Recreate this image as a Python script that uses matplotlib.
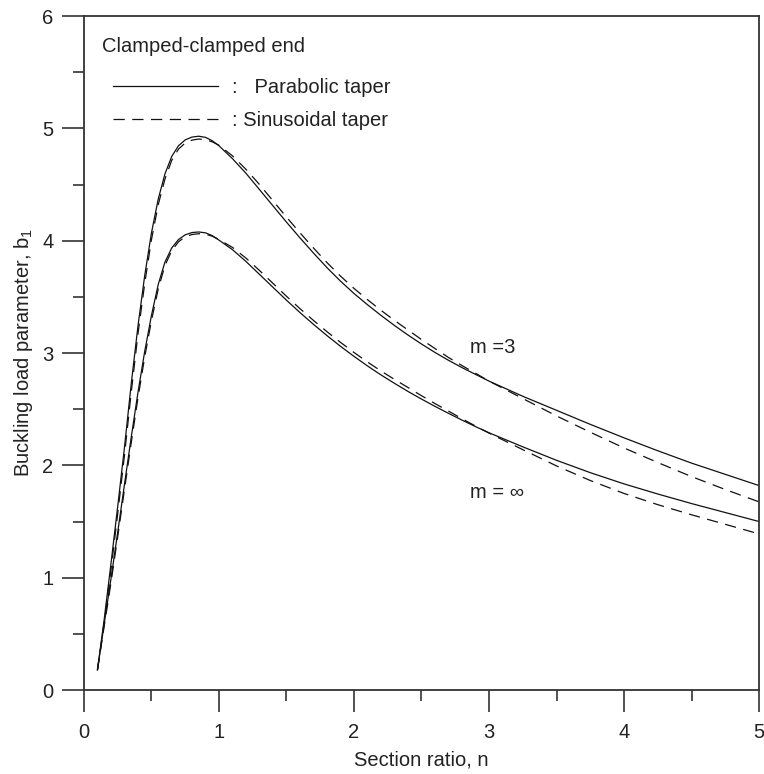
import matplotlib
matplotlib.use("Agg")
import matplotlib.pyplot as plt
from matplotlib.lines import Line2D
from matplotlib.ticker import MultipleLocator

plt.rcParams['font.family'] = ['Liberation Sans', 'DejaVu Sans']
plt.rcParams['mathtext.fontset'] = 'custom'
plt.rcParams['mathtext.rm'] = 'Liberation Sans'

# valeurs
n = [0.10, 0.15, 0.20, 0.25, 0.30, 0.35, 0.40, 0.45, 0.50, 0.55, 0.60, 0.65,
     0.70, 0.75, 0.80, 0.85, 0.90, 0.95, 1.00, 1.10, 1.20, 1.30, 1.40, 1.50,
     1.60, 1.70, 1.80, 1.90, 2.00, 2.10, 2.20, 2.30, 2.40, 2.50, 2.60, 2.70,
     2.80, 2.90, 3.00, 3.25, 3.50, 3.75, 4.00, 4.25, 4.50, 4.75, 5.00]

para_m3 = [0.18, 0.63, 1.125, 1.635, 2.16, 2.725, 3.24, 3.69, 4.07, 4.37, 4.595, 4.75,
           4.845, 4.8975, 4.9225, 4.93, 4.92, 4.89, 4.845, 4.73, 4.60, 4.455, 4.31, 4.165,
           4.025, 3.89, 3.76, 3.64, 3.53, 3.43, 3.335, 3.245, 3.16, 3.08, 3.005, 2.935,
           2.87, 2.81, 2.75, 2.615, 2.49, 2.365, 2.245, 2.13, 2.02, 1.92, 1.82]

sin_m3 = [0.18, 0.60, 1.07, 1.57, 2.09, 2.65, 3.17, 3.62, 4.01, 4.32, 4.55, 4.715,
          4.815, 4.87, 4.895, 4.905, 4.90, 4.88, 4.85, 4.755, 4.635, 4.50, 4.355, 4.21,
          4.07, 3.935, 3.805, 3.685, 3.575, 3.475, 3.38, 3.29, 3.205, 3.12, 3.04, 2.96,
          2.888, 2.82, 2.75, 2.595, 2.44, 2.295, 2.155, 2.025, 1.90, 1.785, 1.675]

para_inf = [0.18, 0.59, 0.99, 1.405, 1.83, 2.25, 2.65, 3.015, 3.335, 3.61, 3.81, 3.935,
            4.01, 4.0525, 4.0725, 4.0775, 4.07, 4.045, 4.005, 3.92, 3.815, 3.70, 3.585, 3.47,
            3.36, 3.255, 3.155, 3.06, 2.97, 2.885, 2.805, 2.73, 2.658, 2.59, 2.525, 2.463,
            2.403, 2.345, 2.29, 2.165, 2.045, 1.935, 1.835, 1.745, 1.66, 1.58, 1.50]

sin_inf = [0.18, 0.57, 0.955, 1.365, 1.785, 2.20, 2.60, 2.965, 3.29, 3.57, 3.78, 3.91,
           3.99, 4.035, 4.055, 4.062, 4.058, 4.04, 4.01, 3.94, 3.845, 3.735, 3.62, 3.505,
           3.395, 3.29, 3.19, 3.095, 3.005, 2.92, 2.84, 2.765, 2.693, 2.62, 2.55, 2.483,
           2.415, 2.35, 2.287, 2.14, 1.995, 1.865, 1.75, 1.65, 1.56, 1.475, 1.39]

txt = '#222222'
fs = 14.5

fig = plt.figure(figsize=(7.64, 7.74), dpi=100)
ax = fig.add_axes([0.1099, 0.1085, 0.8836, 0.8708])

ax.plot(n, para_m3, color='#111111', lw=0.9)
ax.plot(n, para_inf, color='#111111', lw=0.9)
ax.plot(n, sin_m3, color='#111111', lw=0.9, dashes=(9, 6))
ax.plot(n, sin_inf, color='#111111', lw=0.9, dashes=(9, 6))

ax.set_xlim(0, 5)
ax.set_ylim(0, 6)
ax.xaxis.set_major_locator(MultipleLocator(1))
ax.xaxis.set_minor_locator(MultipleLocator(0.5))
ax.yaxis.set_major_locator(MultipleLocator(1))
ax.yaxis.set_minor_locator(MultipleLocator(0.5))
ax.tick_params(which='major', direction='out', length=16, width=1.2, color='#333333',
               labelsize=fs, labelcolor=txt)
ax.tick_params(which='minor', direction='out', length=8, width=1.2, color='#333333')
ax.tick_params(axis='x', pad=8)
ax.tick_params(axis='y', pad=6)
for s in ax.spines.values():
    s.set_linewidth(1.3)
    s.set_color('#333333')

ax.set_xlabel('Section ratio, n', fontsize=fs, color=txt, labelpad=6)
ax.set_ylabel(r'Buckling load parameter, $\mathregular{b_1}$', fontsize=fs, color=txt, labelpad=5)

ax.text(0.13, 5.73, 'Clamped-clamped end', fontsize=fs, color=txt, va='center')
ax.text(2.86, 3.05, 'm =3', fontsize=fs, color=txt, va='center')
ax.text(2.86, 1.76, 'm = \u221e', fontsize=fs, color=txt, va='center')

handles = [Line2D([], [], color='#111111', lw=0.9),
           Line2D([], [], color='#111111', lw=0.9, dashes=(9, 6))]
leg = ax.legend(handles, [':   Parabolic taper', ': Sinusoidal taper'],
                loc='upper left', bbox_to_anchor=(0.043, 0.908), frameon=False,
                fontsize=fs, handlelength=5.2, handletextpad=0.7,
                labelspacing=0.70, borderpad=0, borderaxespad=0)
for t in leg.get_texts():
    t.set_color(txt)

fig.savefig('out.png', dpi=100)
